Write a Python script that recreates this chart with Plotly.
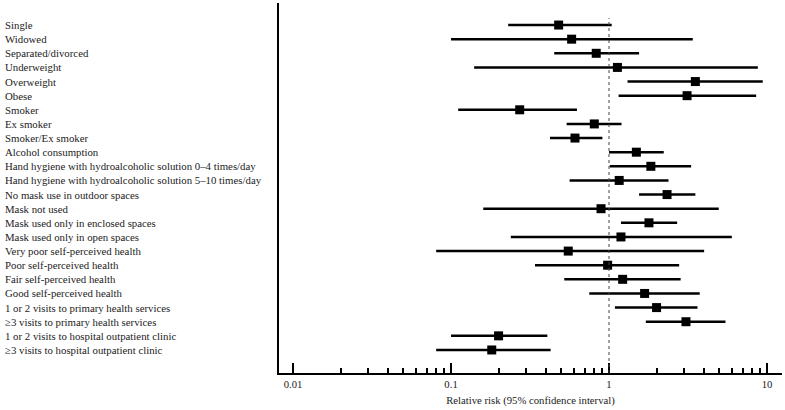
import plotly.graph_objects as go

labels = [
    "Single", "Widowed", "Separated/divorced", "Underweight", "Overweight", "Obese",
    "Smoker", "Ex smoker", "Smoker/Ex smoker", "Alcohol consumption",
    "Hand hygiene with hydroalcoholic solution 0–4 times/day",
    "Hand hygiene with hydroalcoholic solution 5–10 times/day",
    "No mask use in outdoor spaces", "Mask not used", "Mask used only in enclosed spaces",
    "Mask used only in open spaces", "Very poor self-perceived health",
    "Poor self-perceived health", "Fair self-perceived health", "Good self-perceived health",
    "1 or 2 visits to primary health services", "≥3 visits to primary health services",
    "1 or 2 visits to hospital outpatient clinic", "≥3 visits to hospital outpatient clinic",
]
rr = [0.48, 0.58, 0.83, 1.13, 3.52, 3.12, 0.272, 0.807, 0.609, 1.49, 1.84, 1.16,
      2.33, 0.89, 1.79, 1.19, 0.552, 0.98, 1.22, 1.68, 2.00, 3.07, 0.20, 0.181]
lower = [0.230, 0.10, 0.45, 0.140, 1.31, 1.15, 0.111, 0.539, 0.423, 1.00, 1.01, 0.563,
         1.55, 0.160, 1.19, 0.239, 0.0805, 0.340, 0.521, 0.75, 1.09, 1.71, 0.10, 0.0805]
upper = [1.04, 3.39, 1.55, 8.75, 9.4, 8.54, 0.627, 1.20, 0.908, 2.22, 3.31, 2.38,
         3.52, 4.95, 2.70, 5.99, 4.0, 2.78, 2.84, 3.75, 3.63, 5.46, 0.407, 0.427]

major_ticks = [0.01, 0.1, 1, 10]
major_text = ["0.01", "0.1", "1", "10"]
minor_ticks = [m * d for d in (0.01, 0.1, 1) for m in range(2, 10)]

font_family = "Liberation Serif"

fig = go.Figure()
fig.add_trace(go.Scatter(
    x=rr, y=labels, mode="markers",
    marker=dict(symbol="square", size=9, color="black"),
    error_x=dict(type="data", symmetric=False,
                 array=[u - r for u, r in zip(upper, rr)],
                 arrayminus=[r - l for r, l in zip(rr, lower)],
                 color="black", thickness=2.5, width=0),
    showlegend=False, hoverinfo="skip",
))

for lab in labels:
    fig.add_annotation(x=-0.5487, xref="paper", y=lab, yref="y", text=lab,
                       showarrow=False, xanchor="left", yanchor="middle",
                       font=dict(family=font_family, size=10.8, color="#222"))

fig.add_shape(type="line", xref="x", yref="paper", x0=1, x1=1, y0=0, y1=0.959,
              line=dict(color="#444", width=1, dash="dot"))

fig.update_layout(
    width=785, height=410,
    margin=dict(l=279, r=3, t=3, b=37),
    plot_bgcolor="white", paper_bgcolor="white",
    font=dict(family=font_family, size=10.7, color="#222"),
    xaxis=dict(type="log", range=[-2.089, 1.095], showgrid=False, zeroline=False,
               showline=True, linecolor="black", linewidth=2,
               tickmode="array", tickvals=major_ticks, ticktext=major_text,
               ticks="inside", ticklen=10, tickwidth=1.5, tickcolor="black",
               minor=dict(tickmode="array", tickvals=minor_ticks, ticks="inside",
                          ticklen=5, tickwidth=1.5, tickcolor="black", showgrid=False),
               title=dict(text="Relative risk (95% confidence interval)",
                          font=dict(size=10.7), standoff=8),
               tickfont=dict(size=10.7)),
    yaxis=dict(type="category", categoryarray=labels, range=[24.63, -1.56],
               showgrid=False, zeroline=False, showticklabels=False, ticks="",
               showline=True, linecolor="black", linewidth=2),
)

fig.write_html("out.html", config={"displayModeBar": False},
               post_script="document.body.style.margin='0';")
